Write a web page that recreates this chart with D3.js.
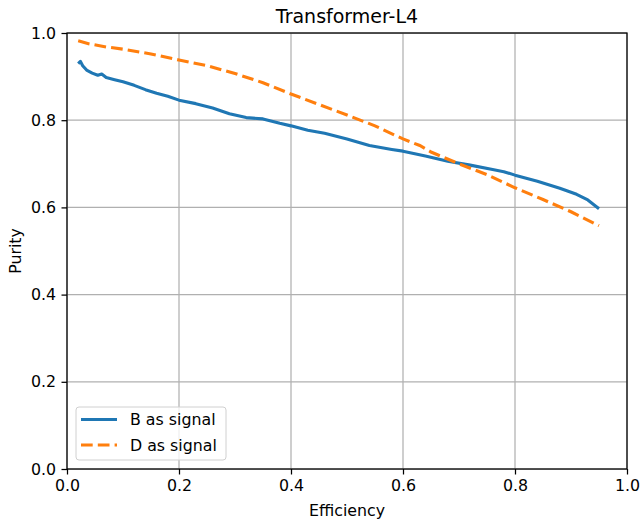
<!DOCTYPE html>
<html>
<head>
<meta charset="utf-8">
<script src="https://cdn.jsdelivr.net/npm/d3@7"></script>
<style>
  body { margin: 0; background: #fff; }
  svg text { font-family: "DejaVu Sans", sans-serif; fill: #000; }
</style>
</head>
<body>
<svg id="main-chart"></svg>
<script>
const bEff = [0.020, 0.024, 0.028, 0.035, 0.045, 0.055, 0.062, 0.070, 0.085, 0.100, 0.120, 0.140, 0.160, 0.180, 0.200, 0.230, 0.260, 0.290, 0.320, 0.350, 0.380, 0.400, 0.430, 0.460, 0.500, 0.540, 0.580, 0.600, 0.640, 0.680, 0.720, 0.760, 0.780, 0.800, 0.840, 0.880, 0.910, 0.930, 0.950];
const bPurity = [0.930, 0.935, 0.925, 0.915, 0.908, 0.903, 0.906, 0.898, 0.893, 0.888, 0.880, 0.870, 0.862, 0.855, 0.846, 0.838, 0.828, 0.815, 0.806, 0.803, 0.793, 0.787, 0.777, 0.770, 0.757, 0.742, 0.733, 0.729, 0.718, 0.706, 0.697, 0.687, 0.682, 0.674, 0.660, 0.644, 0.630, 0.617, 0.597];

const dEff = [0.020, 0.040, 0.070, 0.100, 0.150, 0.200, 0.250, 0.300, 0.350, 0.400, 0.450, 0.500, 0.550, 0.600, 0.630, 0.650, 0.700, 0.750, 0.800, 0.850, 0.900, 0.950];
const dPurity = [0.982, 0.975, 0.968, 0.963, 0.952, 0.938, 0.925, 0.907, 0.886, 0.860, 0.836, 0.812, 0.787, 0.757, 0.742, 0.727, 0.700, 0.675, 0.645, 0.618, 0.590, 0.558];

const xTicks = [0.0, 0.2, 0.4, 0.6, 0.8, 1.0];
const yTicks = [0.0, 0.2, 0.4, 0.6, 0.8, 1.0];
const seriesNames = ['B as signal', 'D as signal'];

const W = 641, H = 519;
const margin = { top: 33, right: 14, bottom: 50, left: 67 };
const width = W - margin.left - margin.right;
const height = H - margin.top - margin.bottom;
const fs = '15.8px';
const lw = 3.1, dash = '11.7,5.1';

const svg = d3.select('#main-chart').attr('width', W).attr('height', H);
const chart = svg.append('g').attr('transform', `translate(${margin.left},${margin.top})`);

const x = d3.scaleLinear().domain([0, 1]).range([0, width]);
const y = d3.scaleLinear().domain([0, 1]).range([height, 0]);

// grid
chart.append('g').selectAll('line').data(xTicks).enter().append('line')
  .attr('x1', d => x(d)).attr('x2', d => x(d)).attr('y1', 0).attr('y2', height)
  .attr('stroke', '#b0b0b0').attr('stroke-width', 1.25);
chart.append('g').selectAll('line').data(yTicks).enter().append('line')
  .attr('y1', d => y(d)).attr('y2', d => y(d)).attr('x1', 0).attr('x2', width)
  .attr('stroke', '#b0b0b0').attr('stroke-width', 1.25);

const line = d3.line().x(d => x(d[0])).y(d => y(d[1]));
const bData = bEff.map((e, i) => [e, bPurity[i]]);
const dData = dEff.map((e, i) => [e, dPurity[i]]);

chart.append('path').datum(bData).attr('d', line)
  .attr('fill', 'none').attr('stroke', '#1f77b4').attr('stroke-width', lw)
  .attr('stroke-linejoin', 'round');
chart.append('path').datum(dData).attr('d', line)
  .attr('fill', 'none').attr('stroke', '#ff7f0e').attr('stroke-width', lw)
  .attr('stroke-dasharray', dash);

// axes
const xAxis = chart.append('g').attr('transform', `translate(0,${height})`)
  .call(d3.axisBottom(x).tickValues(xTicks).tickFormat(d3.format('.1f')).tickSize(5.5).tickPadding(5.5));
const yAxis = chart.append('g')
  .call(d3.axisLeft(y).tickValues(yTicks).tickFormat(d3.format('.1f')).tickSize(5.5).tickPadding(5.5));
[xAxis, yAxis].forEach(a => {
  a.select('.domain').remove();
  a.selectAll('.tick line').attr('stroke', '#000').attr('stroke-width', 1.25);
  a.selectAll('.tick text').style('font-size', fs).style('font-family', '"DejaVu Sans", sans-serif');
});

// frame
chart.append('rect').attr('x', 0).attr('y', 0).attr('width', width).attr('height', height)
  .attr('fill', 'none').attr('stroke', '#000').attr('stroke-width', 1.25);

// title and labels
chart.append('text').attr('x', width / 2).attr('y', -10).attr('text-anchor', 'middle')
  .style('font-size', '19px').text('Transformer-L4');
chart.append('text').attr('x', width / 2).attr('y', height + 47).attr('text-anchor', 'middle')
  .style('font-size', fs).text('Efficiency');
chart.append('text').attr('transform', `translate(${-46},${height / 2}) rotate(-90)`)
  .attr('text-anchor', 'middle').style('font-size', fs).text('Purity');

// legend
const leg = chart.append('g').attr('transform', `translate(9,${height - 62})`);
leg.append('rect').attr('x', 0).attr('y', 0).attr('width', 150).attr('height', 53)
  .attr('rx', 3).attr('fill', '#fff').attr('fill-opacity', 0.8).attr('stroke', '#d0d0d0').attr('stroke-width', 1);
const colors = ['#1f77b4', '#ff7f0e'];
seriesNames.forEach((name, i) => {
  const ly = 12.5 + i * 25.5;
  leg.append('line').attr('x1', 5).attr('x2', 41).attr('y1', ly).attr('y2', ly)
    .attr('stroke', colors[i]).attr('stroke-width', lw)
    .attr('stroke-dasharray', i === 1 ? dash : null);
  leg.append('text').attr('x', 54).attr('y', ly + 5.8).style('font-size', fs).text(name);
});
</script>
</body>
</html>
